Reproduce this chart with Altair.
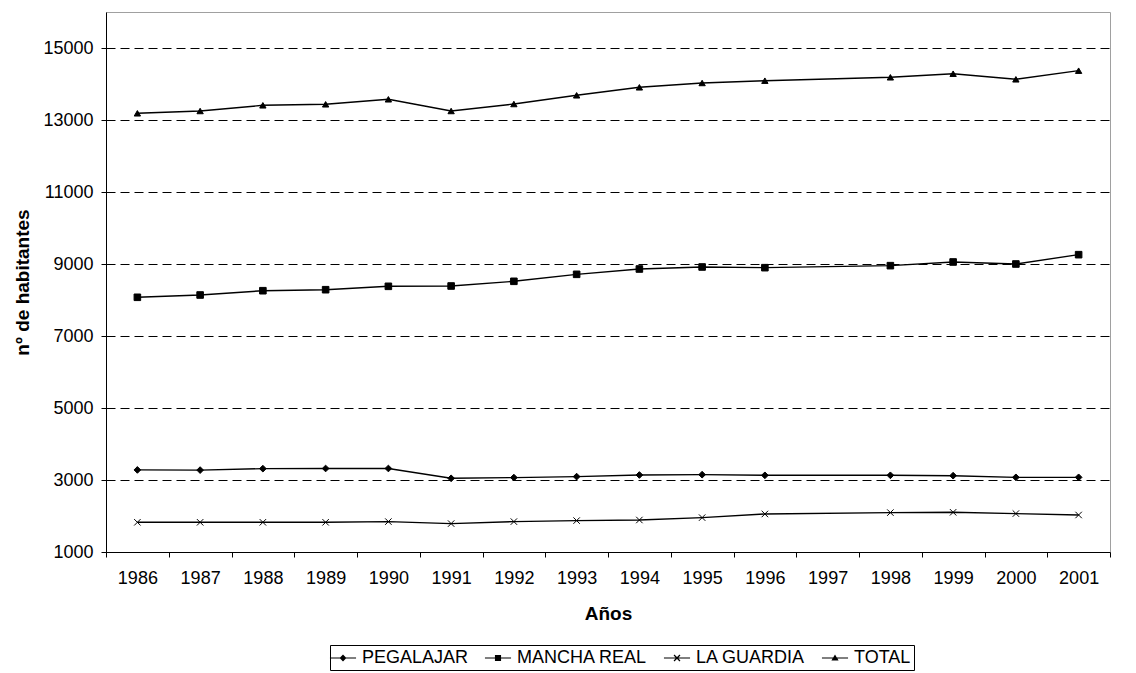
import altair as alt
import pandas as pd

years = [str(y) for y in range(1986, 2002)]
series = ["PEGALAJAR", "MANCHA REAL", "LA GUARDIA", "TOTAL"]

pegalajar = [3280, 3275, 3315, 3320, 3320, 3047, 3067, 3094, 3139, 3148, 3130, None, 3130, 3120, 3074, 3074]
mancha_real = [8075, 8139, 8258, 8286, 8380, 8389, 8519, 8713, 8861, 8917, 8898, None, 8954, 9056, 9000, 9259]
la_guardia = [1825, 1825, 1825, 1825, 1844, 1789, 1844, 1872, 1889, 1955, 2056, None, 2094, 2103, 2067, 2028]
total = [13186, 13250, 13408, 13436, 13575, 13250, 13444, 13686, 13908, 14028, 14092, None, 14186, 14286, 14130, 14370]

y_ticks = [1000, 3000, 5000, 7000, 9000, 11000, 13000, 15000]

rows = []
for name, vals in zip(series, [pegalajar, mancha_real, la_guardia, total]):
    for yr, v in zip(years, vals):
        if v is not None:
            rows.append({"year": yr, "serie": name, "value": v})
df = pd.DataFrame(rows)

FONT = "Liberation Sans"

x_enc = alt.X(
    "year:O",
    scale=alt.Scale(type="band", domain=years, paddingInner=0, paddingOuter=0),
    axis=alt.Axis(
        title="Años", labelAngle=0, tickBand="extent", grid=False,
        domainColor="black", tickColor="black", tickSize=5,
        labelFontSize=18, labelPadding=12, labelColor="black",
        titleFontSize=19, titleFontWeight="bold", titlePadding=17, titleColor="black",
    ),
)
y_enc = alt.Y(
    "value:Q",
    scale=alt.Scale(domain=[1000, 16000], nice=False, zero=False),
    axis=alt.Axis(
        title="nº de habitantes", values=y_ticks, format="d", grid=True, gridDash=[9, 5],
        gridColor="black", gridWidth=1, domainColor="black", tickColor="black",
        tickSize=5, labelFontSize=18, labelPadding=8, labelColor="black",
        titleFontSize=19, titleFontWeight="bold", titlePadding=10, titleColor="black",
    ),
)

lines = alt.Chart(df).mark_line(color="black", strokeWidth=1.4).encode(
    x=x_enc, y=y_enc, detail="serie:N"
)

marker_shapes = ["diamond", "square", "M-1,-1L1,1M-1,1L1,-1", "triangle-up"]
points = alt.Chart(df).mark_point(
    filled=True, color="black", stroke="black", strokeWidth=1, opacity=1
).encode(
    x=x_enc, y=y_enc,
    shape=alt.Shape("serie:N", scale=alt.Scale(domain=series, range=marker_shapes), legend=None),
    size=alt.Size("serie:N", scale=alt.Scale(domain=series, range=[45, 40, 18, 50]), legend=None),
)

# legend glyphs: a line segment with the marker on it, drawn as filled shapes
BAR = "M-1.45,-0.06H1.45V0.06H-1.45Z"
legend_shapes = [
    BAR + "M0,-0.38L0.38,0L0,0.38L-0.38,0Z",
    BAR + "M-0.34,-0.34H0.34V0.34H-0.34Z",
    BAR + "M-0.28,-0.38L0.38,0.28L0.28,0.38L-0.38,-0.28Z"
          "M0.28,-0.38L0.38,-0.28L-0.28,0.38L-0.38,0.28Z",
    BAR + "M-0.4,0.28L0,-0.4L0.4,0.28Z",
]
legend_layer = alt.Chart(df).transform_filter("false").mark_point(
    filled=True, color="black", opacity=1
).encode(
    x=x_enc, y=y_enc,
    shape=alt.Shape(
        "serie:N",
        scale=alt.Scale(domain=series, range=legend_shapes),
        legend=alt.Legend(
            title=None, orient="none", legendX=224, legendY=633,
            direction="horizontal", columns=4, strokeColor="black",
            padding=3, symbolSize=324, symbolFillColor="black",
            labelFontSize=18, labelFont=FONT, labelColor="black",
            labelOffset=9, columnPadding=12, symbolOpacity=1,
        ),
    ),
)

chart = alt.layer(lines, points, legend_layer).resolve_scale(
    shape="independent", size="independent"
).properties(
    width=1004, height=540,
    padding={"left": 106, "top": 12, "right": 26, "bottom": 121},
    autosize=alt.AutoSizeParams(type="none"),
).configure(font=FONT).configure_view(stroke="#a0a0a0", strokeWidth=1)

chart.save("out.html", embed_options={"renderer": "svg", "actions": False})
